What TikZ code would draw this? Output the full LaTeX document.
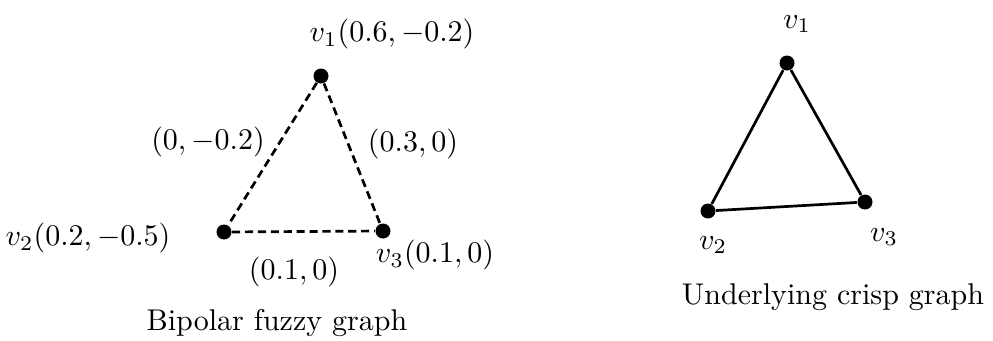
\documentclass[tikz,border=0pt]{standalone}
\usepackage{amsmath}
\usepackage{tikz}
\usetikzlibrary{calc}

\tikzset{
  vertex/.style={circle, fill=black, inner sep=0pt, minimum size=5pt},
  fuzzyedge/.style={line width=0.9pt, dash pattern=on 2.7pt off 1.6pt},
  crispedge/.style={line width=0.9pt}
}

\begin{document}
\begin{tikzpicture}[x=0.3333pt, y=-0.3333pt]
    \useasboundingbox (0,0) rectangle (993,341);

    %----------------------------------------
    % BIPOLAR FUZZY GRAPH (left)
    %----------------------------------------
    \node[vertex] (a1) at (321,76) {};
    \node[vertex] (a2) at (224,232) {};
    \node[vertex] (a3) at (383,231) {};

    \draw[fuzzyedge] (a1) -- (a2);
    \draw[fuzzyedge] (a1) -- (a3);
    \draw[fuzzyedge] (a2) -- (a3);

    % vertex values
    \node (la1) at (392,34) {$v_1(0.6,-0.2)$};
    \node (la2) at (88,238) {$v_2(0.2,-0.5)$};
    \node (la3) at (435,255) {$v_3(0.1,0)$};

    % edge values
    \node (e12) at (208,142) {$(0,-0.2)$};
    \node (e13) at (413,144) {$(0.3,0)$};
    \node (e23) at (294,272) {$(0.1,0)$};

    \node (capA) at (277,323) {Bipolar fuzzy graph};

    %----------------------------------------
    % UNDERLYING CRISP GRAPH (right)
    %----------------------------------------
    \node[vertex] (b1) at (787,63) {};
    \node[vertex] (b2) at (708,211) {};
    \node[vertex] (b3) at (865,202) {};

    \draw[crispedge] (b1) -- (b2);
    \draw[crispedge] (b1) -- (b3);
    \draw[crispedge] (b2) -- (b3);

    \node (lb1) at (797,24) {$v_1$};
    \node (lb2) at (713,245) {$v_2$};
    \node (lb3) at (884,237) {$v_3$};

    \node (capB) at (833,297) {Underlying crisp graph};

\end{tikzpicture}
\end{document}
